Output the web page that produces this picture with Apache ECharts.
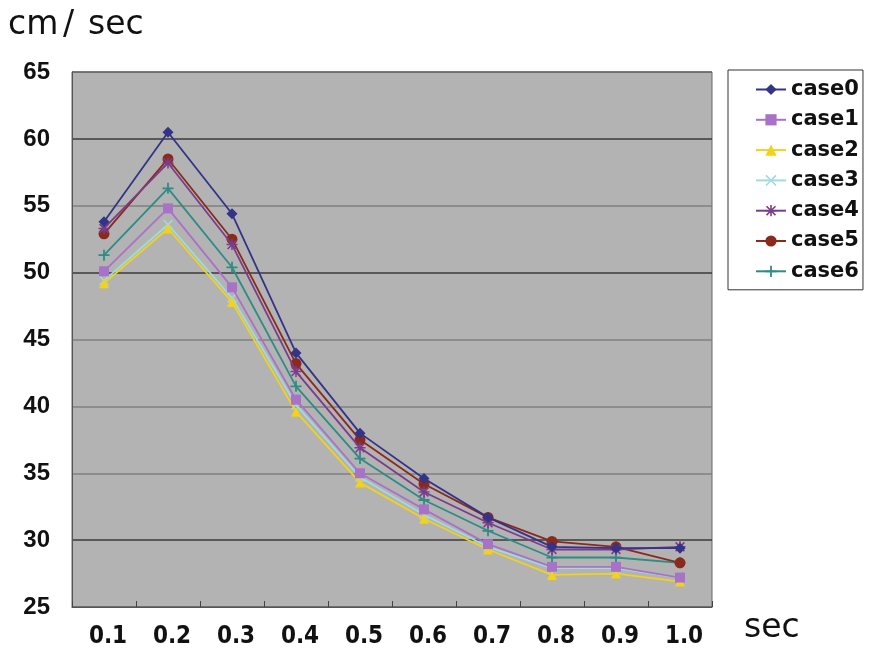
<!DOCTYPE html>
<html>
<head>
<meta charset="utf-8">
<script src="https://cdn.jsdelivr.net/npm/echarts@6/dist/echarts.min.js"></script>
<style>html,body{margin:0;padding:0;background:#fff;}#chart{width:878px;height:649px;}</style>
</head>
<body>
<div id="chart"></div>
<script>
const categories = ['0.1','0.2','0.3','0.4','0.5','0.6','0.7','0.8','0.9','1.0'];
const seriesNames = ['case0','case1','case2','case3','case4','case5','case6'];
const case0 = [53.8, 60.5, 54.4, 44.0, 38.0, 34.6, 31.7, 29.5, 29.4, 29.4];
const case1 = [50.1, 54.8, 48.9, 40.5, 35.0, 32.3, 29.7, 28.0, 28.0, 27.2];
const case2 = [49.2, 53.3, 47.8, 39.6, 34.3, 31.6, 29.3, 27.4, 27.5, 26.9];
const case3 = [49.4, 53.6, 48.1, 40.1, 34.7, 31.9, 29.5, 27.9, 27.9, 27.2];
const case4 = [53.3, 58.2, 52.1, 42.6, 36.9, 33.6, 31.3, 29.3, 29.3, 29.5];
const case5 = [52.9, 58.5, 52.5, 43.2, 37.5, 34.2, 31.7, 29.9, 29.5, 28.3];
const case6 = [51.3, 56.3, 50.4, 41.5, 36.1, 33.0, 30.7, 28.7, 28.7, 28.3];
const yTicks = [25, 30, 35, 40, 45, 50, 55, 60, 65];

const allData = [case0, case1, case2, case3, case4, case5, case6];
const colors = ['#333388', '#a872c8', '#f2d21a', '#9fdcdc', '#7a3c8c', '#8a2a1c', '#2d8c84'];
const plusPath = 'path://M4.2,0H5.8V4.2H10V5.8H5.8V10H4.2V5.8H0V4.2H4.2Z';
const xPath = 'path://M0,1L1,0L5,4L9,0L10,1L6,5L10,9L9,10L5,6L1,10L0,9L4,5Z';
const starPath = 'path://M4.3,0H5.7V10H4.3Z M0,4.3H10V5.7H0Z M0.5,1.5L1.5,0.5L9.5,8.5L8.5,9.5Z M8.5,0.5L9.5,1.5L1.5,9.5L0.5,8.5Z';
const symbols = ['diamond', 'rect', 'triangle', xPath, starPath, 'circle', plusPath];
const symbolSizes = [11, 10, 10, 10, 11, 11, 11];

const chart = echarts.init(document.getElementById('chart'), null, {renderer: 'canvas'});
chart.setOption({
  animation: false,
  backgroundColor: '#ffffff',
  grid: {
    left: 72, right: 166, top: 72, bottom: 42,
    show: true, backgroundColor: '#b3b3b3', borderColor: '#666', borderWidth: 1
  },
  graphic: [
    {type: 'text', left: 8, top: 9, style: {text: 'cm', font: '33px "DejaVu Sans"', fill: '#111'}},
    {type: 'text', left: 63, top: 9, style: {text: '/', font: '33px "DejaVu Sans"', fill: '#111'}},
    {type: 'text', left: 88, top: 9, style: {text: 'sec', font: '33px "DejaVu Sans"', fill: '#111'}},
    {type: 'text', left: 744, top: 612, style: {text: 'sec', font: '33px "DejaVu Sans"', fill: '#111'}}
  ],
  legend: {
    orient: 'vertical', left: 728, top: 70,
    backgroundColor: '#fff', borderColor: '#333', borderWidth: 1,
    padding: [9, 4, 8, 27],
    itemWidth: 30, itemHeight: 14, itemGap: 9.3,
    textStyle: {fontFamily: 'DejaVu Sans', fontWeight: 'bold', fontSize: 21, color: '#111'},
    data: seriesNames
  },
  xAxis: {
    type: 'category', data: categories, boundaryGap: true,
    axisLine: {show: true, lineStyle: {color: '#555', width: 1}},
    axisTick: {show: true, inside: true, length: 6, lineStyle: {color: '#444'}},
    axisLabel: {margin: 18, padding: [0, 0, 0, 8], fontFamily: 'DejaVu Sans Condensed', fontWeight: 'bold', fontSize: 24, color: '#111'},
    splitLine: {show: false}
  },
  yAxis: {
    type: 'value', min: yTicks[0], max: yTicks[yTicks.length - 1], interval: 5,
    axisLine: {show: true, lineStyle: {color: '#555'}},
    axisTick: {show: false},
    axisLabel: {margin: 22, fontFamily: 'Liberation Sans', fontWeight: 'bold', fontSize: 24, color: '#111'},
    splitLine: {show: true, lineStyle: {
      color: ['#666', '#3a3a3a', '#808080', '#808080', '#808080', '#3a3a3a', '#808080', '#3a3a3a', '#666'], width: 1.6}}
  },
  series: seriesNames.map((name, i) => ({
    name: name, type: 'line', data: allData[i],
    symbol: symbols[i], symbolSize: symbolSizes[i],
    showAllSymbol: true,
    lineStyle: {color: colors[i], width: 1.8},
    itemStyle: {color: colors[i]},
    z: 10 - i
  }))
});
</script>
</body>
</html>
